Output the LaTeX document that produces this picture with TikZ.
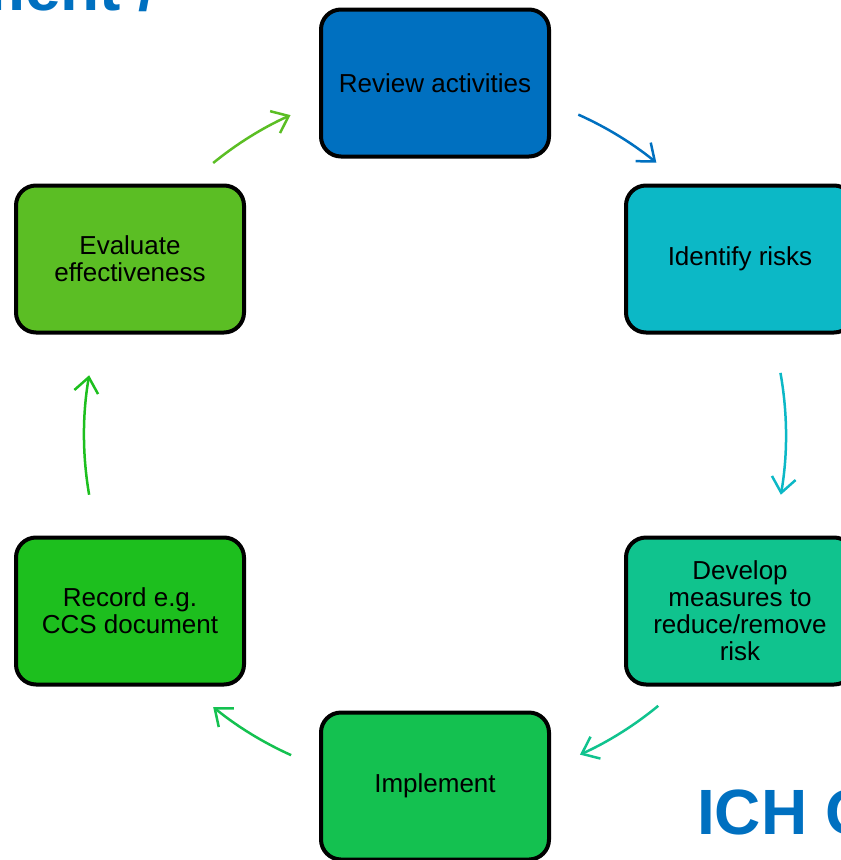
\documentclass[tikz,border=0pt]{standalone}
\usepackage{fontspec}
\setmainfont{Liberation Sans}
\usetikzlibrary{arrows.meta,calc}
\definecolor{cReview}{HTML}{0070C0}
\definecolor{cIdent}{HTML}{0CB8C6}
\definecolor{cDevelop}{HTML}{10C38E}
\definecolor{cImpl}{HTML}{14C150}
\definecolor{cRecord}{HTML}{1DBF1E}
\definecolor{cEval}{HTML}{5BBE24}
\definecolor{cTitle}{HTML}{0070C0}
\begin{document}
\begin{tikzpicture}[x=1pt,y=1pt,
  stepbox/.style={draw=black, line width=4pt, rounded corners=20pt, minimum width=228pt, minimum height=147pt, align=center, font=\fontsize{26}{27}\selectfont, text=black, inner sep=2pt},
  arr/.style={line width=2.5pt, -{Straight Barb[length=15pt,width=24pt]}},
  bigtitle/.style={font=\fontsize{64}{70}\selectfont\bfseries, text=cTitle, inner sep=0pt}]
\useasboundingbox (0,0) rectangle (841,-860);
\clip (0,0) rectangle (841,-860);
\node[bigtitle, anchor=base east] (mgmt) at (157,-10) {Management /};
\node[bigtitle, anchor=base west] (ich) at (697,-834) {ICH Q};
\node[stepbox, fill=cReview] (review) at (435,-83) {Review activities};
\node[stepbox, fill=cIdent] (ident) at (740,-259) {Identify risks};
\node[stepbox, fill=cDevelop] (develop) at (740,-611) {Develop\\measures to\\reduce/remove\\risk};
\node[stepbox, fill=cImpl] (impl) at (435,-786) {Implement};
\node[stepbox, fill=cRecord] (record) at (130,-611) {Record e.g.\\CCS document};
\node[stepbox, fill=cEval] (eval) at (130,-259) {Evaluate\\effectiveness};
\coordinate (c) at (435,-435);
\coordinate (a1) at ($(c)+(65.9:351)$);
\coordinate (a2) at ($(c)+(10.2:351)$);
\coordinate (a3) at ($(c)+(-50.5:351)$);
\coordinate (a4) at ($(c)+(-114.2:351)$);
\coordinate (a5) at ($(c)+(-170.2:351)$);
\coordinate (a6) at ($(c)+(129.2:351)$);
\draw[arr, draw=cReview] (a1) arc[start angle=65.9, end angle=50.9, radius=351];
\draw[arr, draw=cIdent] (a2) arc[start angle=10.2, end angle=-9.8, radius=351];
\draw[arr, draw=cDevelop] (a3) arc[start angle=-50.5, end angle=-65.6, radius=351];
\draw[arr, draw=cImpl] (a4) arc[start angle=-114.2, end angle=-129.2, radius=351];
\draw[arr, draw=cRecord] (a5) arc[start angle=-170.2, end angle=-189.8, radius=351];
\draw[arr, draw=cEval] (a6) arc[start angle=129.2, end angle=114.3, radius=351];
\end{tikzpicture}
\end{document}
